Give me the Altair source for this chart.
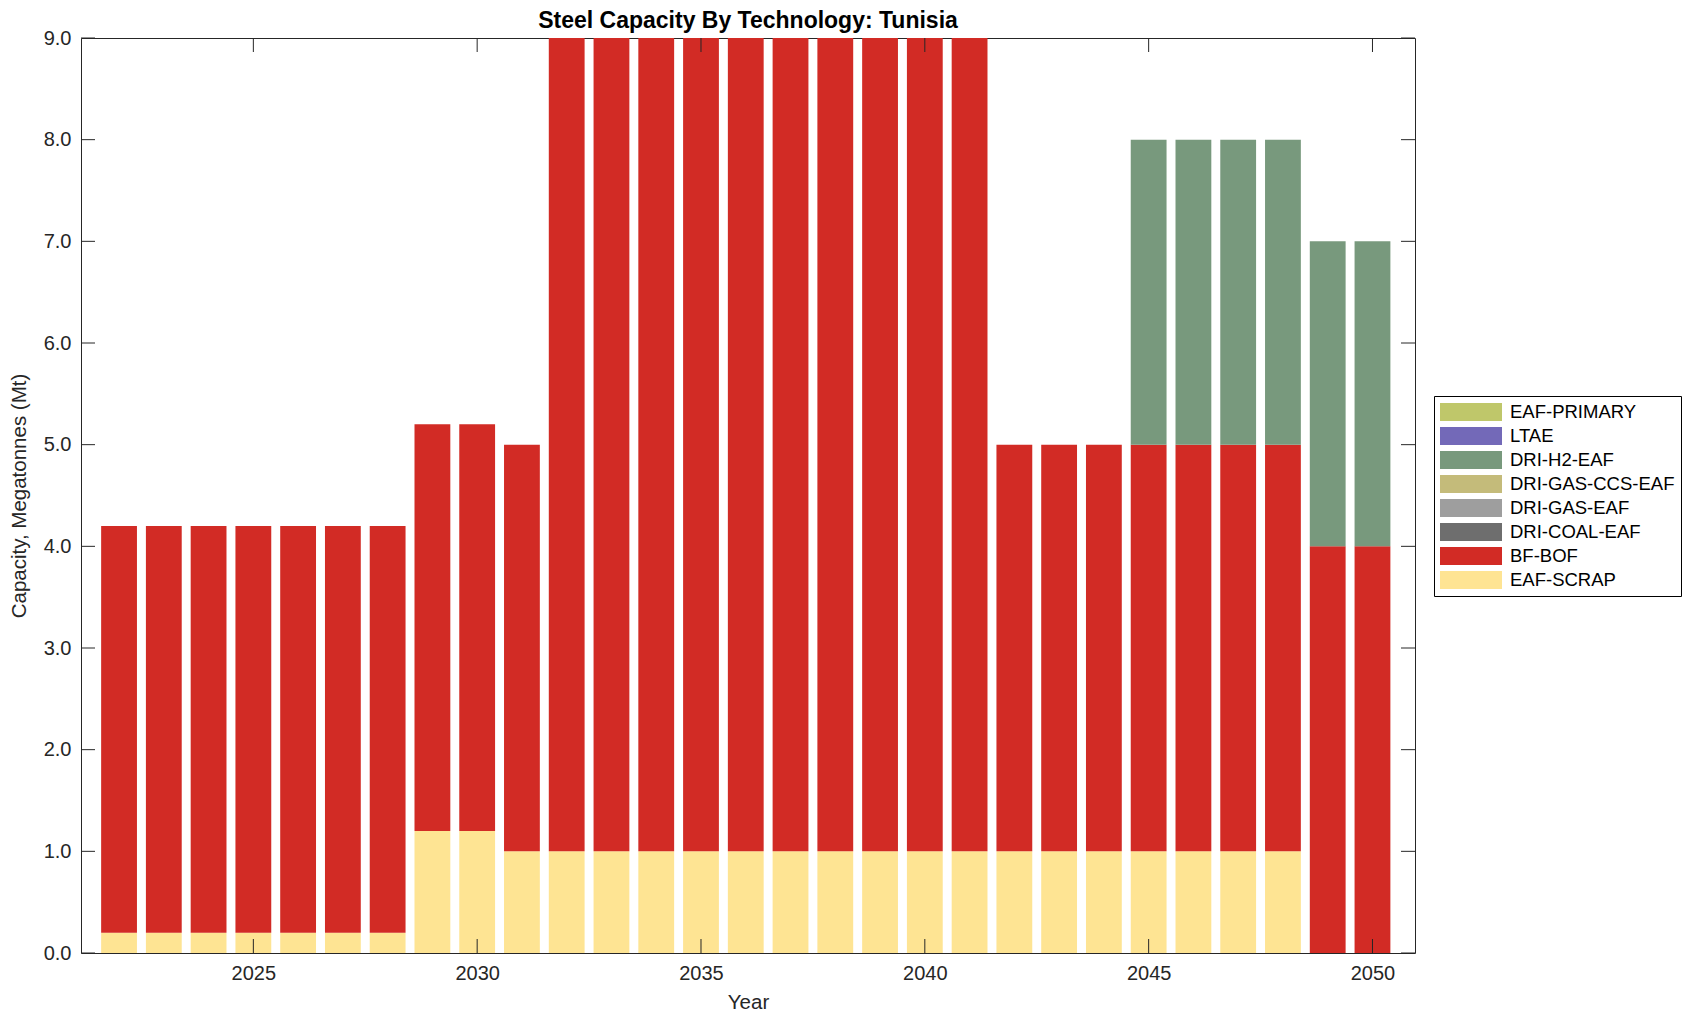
import altair as alt
import pandas as pd

years = [2022, 2023, 2024, 2025, 2026, 2027, 2028, 2029, 2030, 2031,
         2032, 2033, 2034, 2035, 2036, 2037, 2038, 2039, 2040, 2041,
         2042, 2043, 2044, 2045, 2046, 2047, 2048, 2049, 2050]
eaf_scrap = [0.2, 0.2, 0.2, 0.2, 0.2, 0.2, 0.2, 1.2, 1.2, 1.0,
             1.0, 1.0, 1.0, 1.0, 1.0, 1.0, 1.0, 1.0, 1.0, 1.0,
             1.0, 1.0, 1.0, 1.0, 1.0, 1.0, 1.0, 0.0, 0.0]
bf_bof = [4.0, 4.0, 4.0, 4.0, 4.0, 4.0, 4.0, 4.0, 4.0, 4.0,
          8.0, 8.0, 8.0, 8.0, 8.0, 8.0, 8.0, 8.0, 8.0, 8.0,
          4.0, 4.0, 4.0, 4.0, 4.0, 4.0, 4.0, 4.0, 4.0]
dri_h2_eaf = [0.0, 0.0, 0.0, 0.0, 0.0, 0.0, 0.0, 0.0, 0.0, 0.0,
              0.0, 0.0, 0.0, 0.0, 0.0, 0.0, 0.0, 0.0, 0.0, 0.0,
              0.0, 0.0, 0.0, 3.0, 3.0, 3.0, 3.0, 3.0, 3.0]

technologies = ["EAF-PRIMARY", "LTAE", "DRI-H2-EAF", "DRI-GAS-CCS-EAF",
                "DRI-GAS-EAF", "DRI-COAL-EAF", "BF-BOF", "EAF-SCRAP"]
colors = ["#BFC76A", "#7369B8", "#78997D", "#C4BB7A",
          "#9E9E9E", "#6E6E6E", "#D22B25", "#FEE493"]
stack_order = {"EAF-SCRAP": 0, "BF-BOF": 1, "DRI-H2-EAF": 2}

x_ticks = [2025, 2030, 2035, 2040, 2045, 2050]
y_ticks = [0, 1, 2, 3, 4, 5, 6, 7, 8, 9]

rows = []
for name, series in [("EAF-SCRAP", eaf_scrap), ("BF-BOF", bf_bof), ("DRI-H2-EAF", dri_h2_eaf)]:
    for yr, v in zip(years, series):
        if v > 0:
            rows.append({"year": yr, "tech": name, "value": v, "ord": stack_order[name]})
df = pd.DataFrame(rows)

W, H = 1334, 915
FONT = "Liberation Sans"
TL = 14
INK = "#262626"

xscale = alt.Scale(domain=[2021.15, 2050.95], nice=False, zero=False)
yscale = alt.Scale(domain=[0, 9], nice=False, zero=False)
xaxis = alt.Axis(title="Year", values=x_ticks, format="d", labelPadding=10, titlePadding=9)
yaxis = alt.Axis(title="Capacity, Megatonnes (Mt)", values=y_ticks, format=".1f",
                 labelPadding=10, titlePadding=14)

bars = alt.Chart(df).transform_stack(
    stack="value", groupby=["year"], sort=[alt.SortField("ord", "ascending")], as_=["y0", "y1"]
).transform_calculate(
    lo="datum.year - 0.4", hi="datum.year + 0.4"
).mark_bar(clip=True, strokeWidth=0).encode(
    x=alt.X("lo:Q", scale=xscale, axis=xaxis),
    x2="hi:Q",
    y=alt.Y("y0:Q", scale=yscale, axis=yaxis),
    y2="y1:Q",
    color=alt.Color("tech:N", scale=alt.Scale(domain=technologies, range=colors),
                    legend=alt.Legend(title=None, orient="none", legendX=1353, legendY=358,
                                      symbolType="M-1,-0.9H5.2V0.9H-1Z", symbolSize=400,
                                      symbolStrokeWidth=0, labelFontSize=18.5, labelFont=FONT,
                                      labelColor="#000000", rowPadding=4, padding=6,
                                      labelLimit=400,
                                      strokeColor="#000000", fillColor="#ffffff",
                                      labelOffset=50)),
)

xt = pd.DataFrame({"xt": x_ticks})
yt = pd.DataFrame({"yt": y_ticks})

xb = alt.Chart(xt).mark_rule(color=INK, strokeWidth=1).encode(
    x=alt.X("xt:Q", scale=xscale, axis=xaxis), y=alt.value(H), y2=alt.value(H - TL))
xtop = alt.Chart(xt).mark_rule(color=INK, strokeWidth=1).encode(
    x=alt.X("xt:Q", scale=xscale, axis=xaxis), y=alt.value(0), y2=alt.value(TL))
yl = alt.Chart(yt).mark_rule(color=INK, strokeWidth=1).encode(
    y=alt.Y("yt:Q", scale=yscale, axis=yaxis), x=alt.value(0), x2=alt.value(TL))
yr_ = alt.Chart(yt).mark_rule(color=INK, strokeWidth=1).encode(
    y=alt.Y("yt:Q", scale=yscale, axis=yaxis), x=alt.value(W - TL), x2=alt.value(W))

chart = alt.layer(bars, xb, xtop, yl, yr_).properties(
    width=W, height=H,
    padding={"left": 1, "top": 2, "right": 5, "bottom": 5},
    title=alt.TitleParams("Steel Capacity By Technology: Tunisia", font=FONT, fontSize=23,
                          fontWeight="bold", color="#000000", offset=-5),
).configure_view(stroke=INK, strokeWidth=1).configure_axis(
    labelFont=FONT, labelFontSize=20, labelColor=INK,
    titleFont=FONT, titleFontSize=20.5, titleColor=INK, titleFontWeight="normal",
    ticks=False, domain=False, grid=False,
)

chart.save("out.html", embed_options={"renderer": "svg", "actions": False})
